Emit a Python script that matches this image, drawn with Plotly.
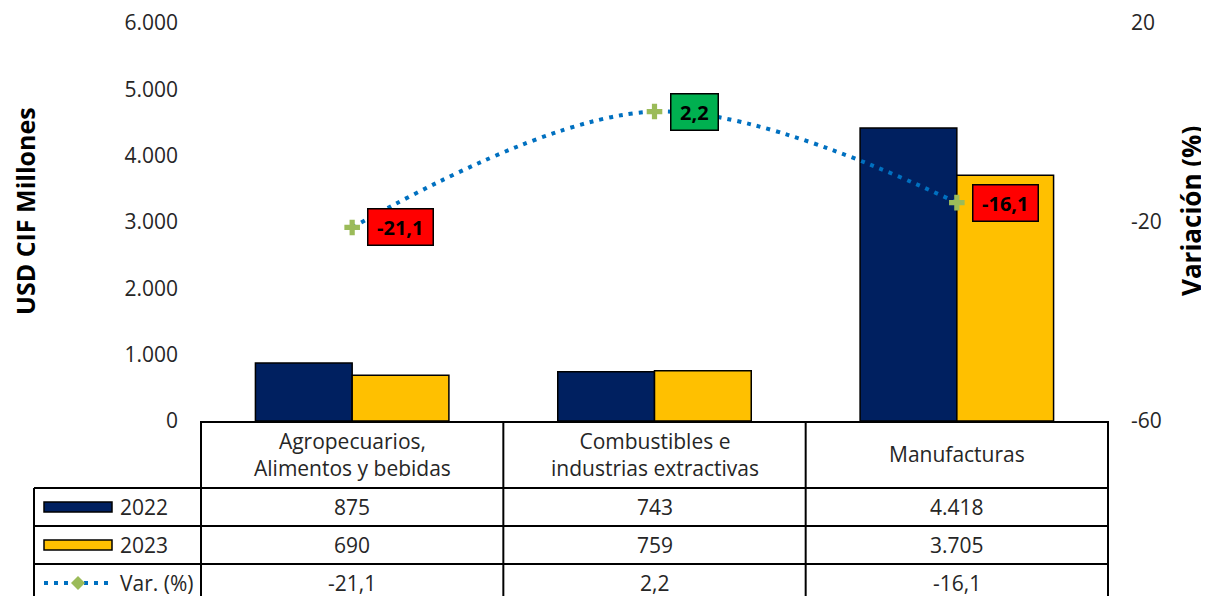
import plotly.graph_objects as go

categories = ["Agropecuarios,<br>Alimentos y bebidas",
              "Combustibles e<br>industrias extractivas",
              "Manufacturas"]
series_names = ["2022", "2023", "Var. (%)"]
values_2022 = [875, 743, 4418]
values_2023 = [690, 759, 3705]
variation = [-21.1, 2.2, -16.1]
y2_tickvals = [-60, -20, 20]
y2_ticktext = ["-60", "-20", "20"]

C2022 = "#002060"
C2023 = "#FFC000"
CLINE = "#0070C0"
CMARK = "#9BBB59"
FONT = "Open Sans"
TXT = "#262626"

W, H = 1209, 596
OFF = 8  # page body margin
ML, MR, MT, MB = 193, 109, 15, 183
PW = W - ML - MR
PH = H - MT - MB


def px_x(sx):
    return (sx - OFF - ML) / PW


def px_y(sy):
    return (H - MB - (sy - OFF)) / PH


def fmt_int(v):
    return f"{v:,}".replace(",", ".")


def fmt_dec(v):
    return f"{v:.1f}".replace(".", ",")


BOLD_W = {"-": 0.32, ",": 0.29}


def label_width(s, size=20):
    return sum(BOLD_W.get(ch, 0.572) for ch in s) * size + 12


fig = go.Figure()
fig.add_trace(go.Bar(x=categories, y=values_2022, name=series_names[0],
                     marker=dict(color=C2022, line=dict(color="black", width=1.5))))
fig.add_trace(go.Bar(x=categories, y=values_2023, name=series_names[1],
                     marker=dict(color=C2023, line=dict(color="black", width=1.5))))
fig.add_trace(go.Scatter(x=categories, y=variation, name=series_names[2], yaxis="y2",
                         mode="lines+markers",
                         line=dict(color=CLINE, width=4, dash="4px,6px", shape="spline"),
                         marker=dict(symbol="cross", size=13, color=CMARK)))

annotations = []
# variation labels
for c, v in zip(categories, variation):
    t = fmt_dec(v)
    annotations.append(dict(x=c, y=v, xref="x", yref="y2", text=f"<b>{t}</b>",
                            showarrow=False, xanchor="left", yanchor="middle", xshift=15,
                            width=label_width(t), height=30,
                            font=dict(family=FONT, size=20, color="black"),
                            bgcolor="#FF0000" if v < 0 else "#00B050",
                            bordercolor="black", borderwidth=1.5, borderpad=2.5))

# table geometry (screen pixels)
row_lines = [488, 526, 564]
header_c = 454
row_c = [507, 545, 583]
left_px = 34
table_bottom = 640

shapes = []
line_style = dict(color="black", width=2)
for ry in row_lines:
    shapes.append(dict(type="line", xref="paper", yref="paper", x0=px_x(left_px), x1=1,
                       y0=px_y(ry), y1=px_y(ry), line=line_style))
for xp in [0, 1 / 3, 2 / 3, 1]:
    shapes.append(dict(type="line", xref="paper", yref="paper", x0=xp, x1=xp,
                       y0=0, y1=px_y(table_bottom), line=line_style))
shapes.append(dict(type="line", xref="paper", yref="paper", x0=px_x(left_px), x1=px_x(left_px),
                   y0=px_y(row_lines[0]), y1=px_y(table_bottom), line=line_style))

# legend swatches inside the table
for i, col in enumerate([C2022, C2023]):
    cy = row_c[i]
    shapes.append(dict(type="rect", xref="paper", yref="paper",
                       x0=px_x(44), x1=px_x(112), y0=px_y(cy - 5), y1=px_y(cy + 5),
                       fillcolor=col, line=dict(color="black", width=1.5)))
shapes.append(dict(type="line", xref="paper", yref="paper", x0=px_x(44), x1=px_x(112),
                   y0=px_y(row_c[2]), y1=px_y(row_c[2]),
                   line=dict(color=CLINE, width=4, dash="4px,6px")))
cy = row_c[2]
shapes.append(dict(type="path", xref="paper", yref="paper",
                   path=(f"M {px_x(78)},{px_y(cy-7)} L {px_x(85)},{px_y(cy)} "
                         f"L {px_x(78)},{px_y(cy+7)} L {px_x(71)},{px_y(cy)} Z"),
                   fillcolor=CMARK, line=dict(width=0)))

for i, name in enumerate(series_names):
    annotations.append(dict(x=px_x(118), y=px_y(row_c[i]), xref="paper", yref="paper",
                            text=name, showarrow=False, xanchor="left", yanchor="middle",
                            font=dict(family=FONT, size=21, color=TXT)))

for c in categories:
    annotations.append(dict(x=c, y=px_y(header_c), xref="x", yref="paper", text=c,
                            showarrow=False, xanchor="center", yanchor="middle",
                            font=dict(family=FONT, size=21, color=TXT)))

rows = [[fmt_int(v) for v in values_2022],
        [fmt_int(v) for v in values_2023],
        [fmt_dec(v) for v in variation]]
for r, row in enumerate(rows):
    for c, txt in zip(categories, row):
        annotations.append(dict(x=c, y=px_y(row_c[r]), xref="x", yref="paper", text=txt,
                                showarrow=False, xanchor="center", yanchor="middle",
                                font=dict(family=FONT, size=21, color=TXT)))

# axis titles
annotations.append(dict(x=px_x(25), y=px_y(211), xref="paper", yref="paper",
                        xanchor="center", yanchor="middle",
                        text="<b>USD CIF Millones</b>", textangle=-90, showarrow=False,
                        font=dict(family=FONT, size=25, color="black")))
annotations.append(dict(x=px_x(1191), y=px_y(211), xref="paper", yref="paper",
                        xanchor="center", yanchor="middle",
                        text="<b>Variación (%)</b>", textangle=-90, showarrow=False,
                        font=dict(family=FONT, size=26, color="black")))

fig.update_layout(
    width=W, height=H,
    margin=dict(l=ML, r=MR, t=MT, b=MB, autoexpand=False),
    paper_bgcolor="white", plot_bgcolor="white",
    separators=",.",
    barmode="group", bargap=0.36, bargroupgap=0,
    showlegend=False,
    font=dict(family=FONT, size=21, color=TXT),
    xaxis=dict(showticklabels=False, ticks="", showline=True, linecolor="black",
               linewidth=2, showgrid=False, zeroline=False),
    yaxis=dict(range=[0, 6000], dtick=1000, tickformat=",d", showgrid=False,
               zeroline=False, showline=False, ticks="", ticklabelstandoff=22,
               tickfont=dict(family=FONT, size=21, color=TXT)),
    yaxis2=dict(range=[-60, 20], tickvals=y2_tickvals, ticktext=y2_ticktext,
                overlaying="y", side="right",
                showgrid=False, zeroline=False, showline=False, ticks="",
                ticklabelstandoff=22, tickfont=dict(family=FONT, size=21, color=TXT)),
    shapes=shapes,
    annotations=annotations,
)

fig.write_html("out.html")
